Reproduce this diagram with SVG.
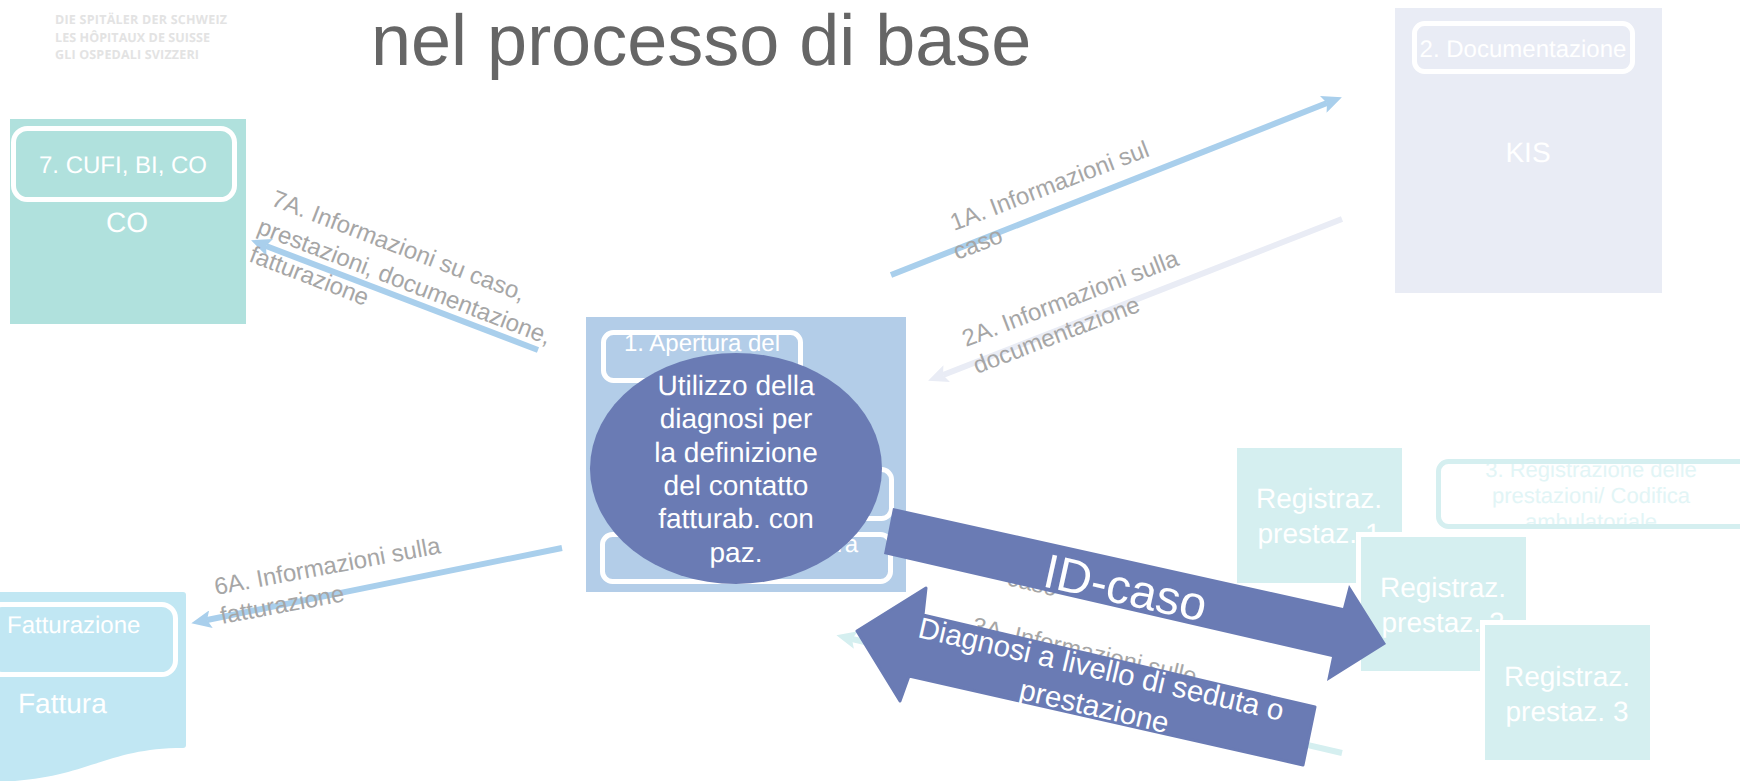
<svg xmlns="http://www.w3.org/2000/svg" width="1740" height="781" viewBox="0 0 1740 781">
<style>
text{font-family:"Liberation Sans",Arial,sans-serif;text-rendering:geometricPrecision}
.w{fill:#fff;text-anchor:middle}
.wl{fill:#fff}
.t28{font-size:28px}
.t24{font-size:24px}
.lb{fill:#a6a6a6;font-size:24px}
.in{fill:none;stroke:#fff;stroke-width:5}
.logo{font-family:"Open Sans",sans-serif;font-weight:700;font-size:12.5px;fill:#e3e3e3}
.ln{stroke-width:6;fill:none}
.big{fill:#6a7bb4}
.reg{fill:#d5eff0;stroke:#fff;stroke-width:5}
</style>
<defs>
<marker id="mBlue" markerUnits="userSpaceOnUse" markerWidth="20" markerHeight="18" viewBox="0 0 20 18" refX="4" refY="9" orient="auto"><path d="M0 0L20 9L0 18L4 9Z" fill="#a9cfec"/></marker>
<marker id="mGrey" markerUnits="userSpaceOnUse" markerWidth="20" markerHeight="18" viewBox="0 0 20 18" refX="4" refY="9" orient="auto"><path d="M0 0L20 9L0 18L4 9Z" fill="#e9ecf5"/></marker>
<marker id="mTeal" markerUnits="userSpaceOnUse" markerWidth="20" markerHeight="18" viewBox="0 0 20 18" refX="4" refY="9" orient="auto"><path d="M0 0L20 9L0 18L4 9Z" fill="#d5eff0"/></marker>
<clipPath id="c3"><rect x="1440" y="464" width="300" height="60"/></clipPath>
<clipPath id="c1"><rect x="604" y="333" width="196" height="47"/></clipPath>
</defs>
<rect width="1740" height="781" fill="#fff"/>
<g id="logo">
<text class="logo" x="55" y="24" textLength="172">DIE SPITÄLER DER SCHWEIZ</text>
<text class="logo" x="55" y="42" textLength="155">LES HÔPITAUX DE SUISSE</text>
<text class="logo" x="55" y="59" textLength="144">GLI OSPEDALI SVIZZERI</text>
</g>
<text id="title" x="371" y="65" font-size="72" fill="#666">nel processo di base</text>
<g id="node-co">
<rect x="10" y="119" width="236" height="205" fill="#b0e1dd"/>
<rect class="in" x="13.500" y="128.500" width="221" height="71" rx="14"/>
<text class="w t24" x="123" y="173">7. CUFI, BI, CO</text>
<text class="w t28" x="127" y="232">CO</text>
</g>
<g id="node-kis">
<rect x="1395" y="8" width="267" height="285" fill="#e9ecf5"/>
<rect class="in" x="1414.500" y="23.500" width="218" height="48" rx="10"/>
<text class="w t24" x="1523" y="57">2. Documentazione</text>
<text class="w t28" x="1528" y="162">KIS</text>
</g>
<g id="node-central">
<rect x="586" y="317" width="320" height="275" fill="#b3cde8"/>
<rect class="in" x="603.500" y="332.500" width="197" height="48" rx="10"/>
<text class="w t24" x="702" y="351" clip-path="url(#c1)">1. Apertura del</text>
<rect class="in" x="610" y="469.500" width="281.500" height="49" rx="10"/>
<rect class="in" x="602.500" y="534.500" width="288" height="47" rx="10"/>
<text class="t24" x="858" y="552" fill="#fff" text-anchor="end">ra</text>
</g>
<g id="node-fattura">
<path d="M-10 592H183q3 0 3 3V745q0 3-3 3C110 748 90 775 15 781H-10Z" fill="#c1e7f3"/>
<rect class="in" x="-12" y="604.500" width="187.500" height="70" rx="14"/>
<text class="wl t24" x="7" y="633">Fatturazione</text>
<text class="wl t28" x="18" y="713">Fattura</text>
</g>
<g id="node-reg-header">
<rect x="1438.500" y="461.500" width="320" height="65" rx="10" fill="#fff" stroke="#d5eff0" stroke-width="5"/>
<g clip-path="url(#c3)" fill="#e2f5f6" font-size="22" text-anchor="middle">
<text x="1591" y="477">3. Registrazione delle</text>
<text x="1591" y="503">prestazioni/ Codifica</text>
<text x="1591" y="529">ambulatoriale</text>
</g>
</g>
<g id="node-reg1">
<rect x="1237" y="448" width="165" height="135" fill="#d5eff0"/>
<text class="w t28" x="1319" y="508">Registraz.</text>
<text class="w t28" x="1319" y="543">prestaz. 1</text>
</g>
<g id="node-reg2">
<rect class="reg" x="1358.500" y="534.500" width="170" height="139"/>
<text class="w t28" x="1443" y="597">Registraz.</text>
<text class="w t28" x="1443" y="632">prestaz. 2</text>
</g>
<g id="connectors">
<line class="ln" x1="891" y1="275" x2="1327" y2="103" stroke="#a9cfec" marker-end="url(#mBlue)"/>
<line class="ln" x1="1342" y1="219" x2="943" y2="375" stroke="#e9ecf5" marker-end="url(#mGrey)"/>
<line class="ln" x1="538" y1="350" x2="266" y2="246" stroke="#a9cfec" marker-end="url(#mBlue)"/>
<line class="ln" x1="562" y1="548" x2="207" y2="620" stroke="#a9cfec" marker-end="url(#mBlue)"/>
<line class="ln" x1="1342" y1="753" x2="852" y2="639" stroke="#d5eff0" marker-end="url(#mTeal)"/>
<g class="lb">
<text class="lb" transform="translate(954 231) rotate(-21)">1A. Informazioni sul</text>
<text class="lb" transform="translate(957 260) rotate(-21)">caso</text>
<text class="lb" transform="translate(966 347) rotate(-21)">2A. Informazioni sulla</text>
<text class="lb" transform="translate(977 374) rotate(-21)">documentazione</text>
<text class="lb" transform="translate(270 205) rotate(21)">7A. Informazioni su caso,</text>
<text class="lb" transform="translate(256 233) rotate(21)">prestazioni, documentazione,</text>
<text class="lb" transform="translate(248 261) rotate(21)">fatturazione</text>
<text class="lb" transform="translate(216 595) rotate(-10.500)">6A. Informazioni sulla</text>
<text class="lb" transform="translate(222 624) rotate(-10.500)">fatturazione</text>
<text class="lb" transform="translate(1006 585) rotate(13)">caso</text>
<text class="lb" transform="translate(971 633) rotate(13)">3A. Informazioni sulle</text>
</g>
<polygon class="big" points="893,508 1343,608 1349,585 1386,644 1327,681 1332,657 884,554"/>
<text class="w" font-size="48" transform="translate(1122 604) rotate(12.500)">ID-caso</text>
<polygon class="big" stroke="#6a7bb4" stroke-width="3" stroke-linejoin="round" points="857,631 926,588 923,615 1315,707 1303,765 909,676 900,701"/>
<text class="w" font-size="29.500" transform="translate(1099 679) rotate(13)">Diagnosi a livello di seduta o</text>
<text class="w" font-size="29.500" transform="translate(1092 716) rotate(13)">prestazione</text>
</g>
<g id="node-reg3">
<rect class="reg" x="1482.500" y="622.500" width="170" height="140"/>
<text class="w t28" x="1567" y="686">Registraz.</text>
<text class="w t28" x="1567" y="721">prestaz. 3</text>
</g>
<g id="node-diagnosis">
<ellipse cx="736" cy="468.500" rx="146" ry="115.500" fill="#6a7bb4"/>
<text class="w t28" x="736" y="395">Utilizzo della</text>
<text class="w t28" x="736" y="428">diagnosi per</text>
<text class="w t28" x="736" y="462">la definizione</text>
<text class="w t28" x="736" y="495">del contatto</text>
<text class="w t28" x="736" y="528">fatturab. con</text>
<text class="w t28" x="736" y="562">paz.</text>
</g>
</svg>
